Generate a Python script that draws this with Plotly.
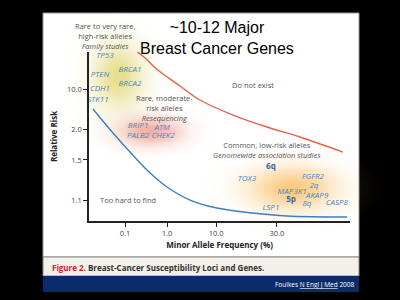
import numpy as np
import plotly.graph_objects as go

# schematic axes (the figure is not drawn to a true scale), units 0-100
FREQ_TICKS = ["0.1", "1.0", "10.0", "30.0"]
FREQ_POS = [13.8, 29.9, 48.7, 72.0]
RR_TICKS = ["10.0", "2.0", "1.5", "1.1"]
RR_POS = [78.1, 54.4, 36.1, 12.4]

# upper boundary ("do not exist")
upper_x = [16.1, 21.5, 26.4, 34.9, 42.5, 55.2, 68.2, 80.8, 97.3]
upper_y = [103.0, 96.4, 89.3, 79.9, 71.6, 62.7, 55.6, 49.7, 40.8]

# lower boundary ("too hard to find")
lower_x = [1.5, 9.2, 15.7, 22.2, 29.9, 38.7, 49.0, 62.8, 75.9, 98.9]
lower_y = [66.3, 52.1, 40.8, 30.2, 20.1, 12.4, 7.7, 4.7, 3.0, 2.4]

genes = ["TP53", "PTEN", "BRCA1", "CDH1", "BRCA2", "STK11",
         "BRIP1", "ATM", "PALB2", "CHEK2",
         "TOX3", "FGFR2", "2q", "MAP3K1", "AKAP9", "8q", "CASP8", "LSP1"]
gene_x = [6.1, 4.2, 15.7, 4.2, 15.7, 3.4,
          18.8, 28.0, 18.8, 28.4,
          60.5, 85.8, 86.2, 77.8, 87.4, 83.5, 95.0, 69.7]
gene_y = [97.6, 86.4, 89.3, 78.1, 81.1, 71.6,
          56.2, 55.0, 50.3, 50.3,
          24.9, 26.0, 20.7, 17.2, 14.8, 10.1, 10.7, 7.7]

loci = ["6q", "5p"]
loci_x = [69.7, 77.4]
loci_y = [32.0, 12.4]

groups = ["Rare, moderate-<br>risk alleles<br><i>Resequencing</i>",
          "Do not exist",
          "Common, low-risk alleles<br><i>Genomewide association studies</i>",
          "Too hard to find"]
group_x = [29.1, 62.8, 68.2, 14.9]
group_y = [67.0, 80.5, 42.0, 12.4]

FONT = "Open Sans"
GENE_BLUE = "#4a86c4"


def glow(cx, cy, sx, sy, rgb, alpha):
    # soft blob on the full-figure pixel axes
    xs = np.linspace(cx - 3 * sx, cx + 3 * sx, 50)
    ys = np.linspace(cy - 3 * sy, cy + 3 * sy, 50)
    X, Y = np.meshgrid(xs, ys)
    Z = np.exp(-((X - cx) ** 2 / (2 * sx ** 2) + (Y - cy) ** 2 / (2 * sy ** 2)))
    r, g, b = rgb
    return go.Heatmap(x=xs, y=ys, z=Z, xaxis="x", yaxis="y", zsmooth="best",
                      showscale=False, hoverinfo="skip", zmin=0, zmax=1,
                      colorscale=[[0, f"rgba({r},{g},{b},0)"],
                                  [1, f"rgba({r},{g},{b},{alpha})"]])


fig = go.Figure()
fig.add_trace(glow(118, 76, 18, 23, (226, 212, 115), 0.8))
fig.add_trace(glow(150, 131, 22, 10, (234, 140, 120), 0.7))
fig.add_trace(glow(292, 188, 30, 15, (250, 188, 95), 0.8))

fig.add_trace(go.Scatter(x=upper_x, y=upper_y, mode="lines", line_shape="spline",
                         line=dict(color="#e8604a", width=1.4), cliponaxis=False,
                         xaxis="x2", yaxis="y2", hoverinfo="skip"))
fig.add_trace(go.Scatter(x=lower_x, y=lower_y, mode="lines", line_shape="spline",
                         line=dict(color="#3b7fc0", width=1.4), cliponaxis=False,
                         xaxis="x2", yaxis="y2", hoverinfo="skip"))
fig.add_trace(go.Scatter(x=gene_x, y=gene_y, text=genes, mode="text", cliponaxis=False,
                         textfont=dict(family=FONT, size=8, color=GENE_BLUE, style="italic"),
                         xaxis="x2", yaxis="y2", hoverinfo="skip"))
fig.add_trace(go.Scatter(x=loci_x, y=loci_y, text=loci, mode="text", cliponaxis=False,
                         textfont=dict(family=FONT, size=8, color="#2f6aa8", weight="bold"),
                         xaxis="x2", yaxis="y2", hoverinfo="skip"))

for t, gx, gy in zip(groups, group_x, group_y):
    fig.add_annotation(x=gx, y=gy, xref="x2", yref="y2", text=t, showarrow=False,
                       font=dict(family=FONT, size=7.5, color="#555"))

# this one sits above the axis range, so it goes on the pixel axes
fig.add_annotation(x=105, y=36, xref="x", yref="y", showarrow=False,
                   text="Rare to very rare,<br>high-risk alleles<br><i>Family studies</i>",
                   font=dict(family=FONT, size=7.5, color="#555"))

fig.add_annotation(x=217 / 400, y=1 - 38 / 300, xref="paper", yref="paper",
                   xanchor="center", yanchor="middle",
                   text="~10-12 Major<br>Breast Cancer Genes", showarrow=False,
                   font=dict(family="Liberation Sans", size=16, color="black"))
fig.add_annotation(x=50 / 400, y=1 - 267 / 300, xref="paper", yref="paper",
                   xanchor="left", yanchor="middle",
                   text="<b><span style='color:#c8202e'>Figure 2.</span> Breast-Cancer Susceptibility Loci and Genes.</b>",
                   showarrow=False, font=dict(family=FONT, size=8, color="#333"))
fig.add_annotation(x=357 / 400, y=1 - 284 / 300, xref="paper", yref="paper",
                   xanchor="right", yanchor="middle",
                   text="Foulkes <u>N Engl J Med</u> 2008", showarrow=False,
                   font=dict(family=FONT, size=6.5, color="white"))

shapes = [
    dict(type="rect", xref="paper", yref="paper", x0=43 / 400, x1=359 / 400,
         y0=1 - 257 / 300, y1=1 - 13 / 300, fillcolor="white",
         line=dict(color="#999", width=1), layer="below"),
    dict(type="rect", xref="paper", yref="paper", x0=43 / 400, x1=359 / 400,
         y0=1 - 276 / 300, y1=1 - 257 / 300, fillcolor="#f3efe9",
         line=dict(color="#888", width=1), layer="below"),
    dict(type="rect", xref="paper", yref="paper", x0=43 / 400, x1=359 / 400,
         y0=1 - 292 / 300, y1=1 - 276 / 300, fillcolor="#0b2c6b",
         line=dict(width=0), layer="below"),
]

fig.update_layout(
    width=400, height=300,
    margin=dict(l=0, r=0, t=0, b=0),
    paper_bgcolor="black", plot_bgcolor="rgba(0,0,0,0)",
    showlegend=False, shapes=shapes,
    xaxis=dict(domain=[0, 1], range=[0, 400], visible=False, fixedrange=True),
    yaxis=dict(domain=[0, 1], range=[300, 0], visible=False, fixedrange=True, anchor="x"),
    xaxis2=dict(domain=[89 / 400, 350 / 400], range=[0, 100], anchor="y2",
                showline=True, linecolor="#222", linewidth=1.5, showgrid=False, zeroline=False,
                ticks="outside", ticklen=4, tickwidth=1.2, tickcolor="#222",
                tickvals=FREQ_POS, ticktext=FREQ_TICKS,
                tickfont=dict(family=FONT, size=7.5, color="#444"),
                title=dict(text="<b>Minor Allele Frequency (%)</b>", standoff=6,
                           font=dict(family=FONT, size=8, color="#222"))),
    yaxis2=dict(domain=[1 - 221 / 300, 1 - 52 / 300], range=[0, 100], anchor="x2",
                showline=True, linecolor="#222", linewidth=1.5, showgrid=False, zeroline=False,
                ticks="outside", ticklen=4, tickwidth=1.2, tickcolor="#222",
                tickvals=RR_POS, ticktext=RR_TICKS,
                tickfont=dict(family=FONT, size=7.5, color="#444"),
                title=dict(text="<b>Relative Risk</b>", standoff=8,
                           font=dict(family=FONT, size=8, color="#222"))),
)

fig.write_html("out.html", config={"displayModeBar": False},
               post_script="document.body.style.margin='0';document.body.style.overflow='hidden';")
